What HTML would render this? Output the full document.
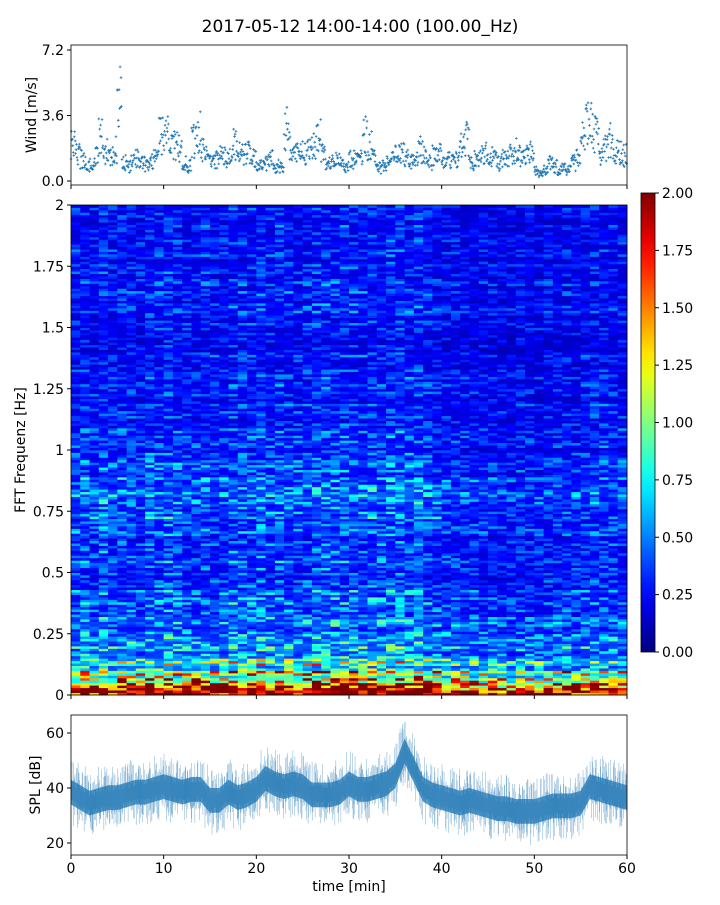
<!DOCTYPE html>
<html><head><meta charset="utf-8">
<style>
body{margin:0;background:#fff;font-family:"Liberation Sans","DejaVu Sans",sans-serif;}
svg text{font-family:"DejaVu Sans","Liberation Sans",sans-serif;fill:#000;}
</style></head>
<body>
<svg id="fig" width="720" height="900" xmlns="http://www.w3.org/2000/svg">
<text x="360" y="32" font-size="17" text-anchor="middle">2017-05-12 14:00-14:00 (100.00_Hz)</text>
<g id="wind"></g>
<g id="spec"></g>
<g id="cbar"></g>
<g id="spl"></g>
</svg>
<script>
// ---- data ----
const windMinutes = 60;
const windValues = [2.2,1.5,1.2,1.0,0.9,1.3,2.4,1.6,1.3,1.7,4.8,1.0,0.8,1.0,1.2,1.0,0.9,1.2,1.8,2.4,3.0,2.3,2.1,1.9,1.0,0.8,2.2,2.7,1.6,1.3,1.0,1.2,1.4,1.3,1.5,2.0,1.6,1.4,1.5,1.2,
 1.0,0.8,1.0,1.2,0.8,0.7,2.8,2.0,1.7,1.5,1.6,1.7,2.0,2.4,1.4,0.9,1.0,1.2,1.0,0.8,1.2,1.3,1.5,2.5,2.0,1.2,0.7,0.8,1.0,1.2,1.4,1.5,1.2,1.1,1.3,1.7,1.3,1.0,1.4,1.5,
 1.2,1.1,1.0,1.3,2.1,2.4,1.0,1.2,1.4,1.5,1.3,1.2,1.0,1.2,1.4,1.3,1.7,1.2,1.4,1.5,0.6,0.4,0.6,1.0,0.8,0.6,0.7,0.6,1.0,1.3,2.5,3.0,3.1,2.6,1.4,1.8,2.3,1.7,1.5,1.4];
const windTicks = [0.0,3.6,7.2];
const splMinutes = [0,1,2,3,4,5,6,7,8,9,10,11,12,13,14,15,16,17,18,19,20,21,22,23,24,25,26,27,28,29,30,31,32,33,34,35,36,37,38,39,40,41,42,43,44,45,46,47,48,49,50,51,52,53,54,55,56,57,58,59,60];
const splValues = [39,37,35,36,37,37,38,39,39,40,41,40,39,40,40,36,36,39,37,38,40,44,42,41,42,41,38,38,38,39,42,40,40,41,42,45,54,47,40,38,37,36,35,36,35,34,33,33,32,32,32,33,34,34,34,35,41,40,39,38,37];
const splTicks = [20,40,60];
const timeTicks = [0,10,20,30,40,50,60];
const freqTicks = [0,0.25,0.5,0.75,1,1.25,1.5,1.75,2];
const freqTickLabels = ["0","0.25","0.5","0.75","1","1.25","1.5","1.75","2"];
const cbarTicks = [0,0.25,0.5,0.75,1,1.25,1.5,1.75,2];
// spectral profile (mean amplitude vs frequency, 0..2 Hz, 40 bins)
const freqProfile = [2.1,1.0,0.72,0.58,0.5,0.44,0.4,0.37,0.35,0.34,0.33,0.33,0.33,0.34,0.36,0.38,0.4,0.37,0.33,0.31,0.3,0.28,0.28,0.27,0.26,0.26,0.26,0.26,0.25,0.25,0.26,0.27,0.27,0.26,0.25,0.25,0.25,0.24,0.24,0.24];
// temporal modulation per minute
const timeProfile = [1.0,1.1,1.0,1.2,1.0,1.1,1.1,1.0,1.15,1.1,1.2,1.1,1.05,1.0,1.1,1.0,1.05,1.15,1.1,1.1,1.2,1.1,1.15,1.1,1.05,1.1,1.2,1.2,1.15,1.2,1.15,1.1,1.2,1.15,1.2,1.25,1.15,1.25,1.1,1.0,0.95,0.95,0.9,0.95,0.9,0.9,0.85,0.85,0.9,0.9,0.85,0.9,0.95,0.95,0.9,0.95,1.0,1.0,1.0,1.0];

// ---- helpers ----
const NS="http://www.w3.org/2000/svg";
function mk(tag,attrs,parent){const e=document.createElementNS(NS,tag);for(const k in attrs)e.setAttribute(k,attrs[k]);parent.appendChild(e);return e;}
const X0=71,X1=627;
const xScale=t=>X0+(t/60)*(X1-X0);
function jet(v){v=Math.max(0,Math.min(1,v));
 const r=Math.min(1,Math.max(0,1.5-Math.abs(4*v-3))),g=Math.min(1,Math.max(0,1.5-Math.abs(4*v-2))),b=Math.min(1,Math.max(0,1.5-Math.abs(4*v-1)));
 return `rgb(${Math.round(r*255)},${Math.round(g*255)},${Math.round(b*255)})`;}
function hash(a,b){let h=(a*374761393+b*668265263)|0;h=(h^(h>>>13))*1274126177|0;return ((h^(h>>>16))>>>0)/4294967295;}

// ---- wind panel ----
const W=document.getElementById('wind');
const wy=v=>181-(v/7.2)*(181-50);
const nPer=10;
windValues.forEach((v,i)=>{
 for(let j=0;j<nPer;j++){
  const t=(i+j/nPer)*windMinutes/windValues.length;
  const o=(hash(i,j)-0.5)*0.9;
  const val=Math.max(0.1,v*(1+o));
  const x=xScale(t),y=wy(val);
  const p=mk('path',{d:`M${x-1.3},${y}h2.6M${x},${y-1.3}v2.6`,stroke:'#1f77b4','stroke-width':0.8},W);
  
  
 }
});
mk('rect',{x:X0,y:45,width:X1-X0,height:140,fill:'none',stroke:'#000','stroke-width':0.8},W);
windTicks.forEach(t=>{const y=wy(t);mk('line',{x1:X0-4,x2:X0,y1:y,y2:y,stroke:'#000'},W);
 const tx=mk('text',{x:X0-7,y:y+5,'font-size':14,'text-anchor':'end'},W);tx.textContent=t.toFixed(1);
 });
timeTicks.forEach(t=>mk('line',{x1:xScale(t),x2:xScale(t),y1:185,y2:189,stroke:'#000'},W));
const wl=mk('text',{x:0,y:0,'font-size':14,'text-anchor':'middle',transform:'translate(36,115) rotate(-90)'},W);wl.textContent='Wind [m/s]';


// ---- spectrogram ----
const S=document.getElementById('spec');
const SY0=205,SY1=695;
const fy=f=>SY1-(f/2)*(SY1-SY0);
const nRows=200;
for(let t=0;t<60;t++){
 for(let r=0;r<nRows;r++){
  const f=(r+0.5)/nRows*2;
  const bi=Math.min(freqProfile.length-1,Math.floor(f/2*freqProfile.length));
  const n=hash(t,r), n2=hash(r,7);
  let v=freqProfile[bi]*timeProfile[t]*(0.4+1.2*n*n+0.2)*(0.75+0.5*n2);
  const c=mk('rect',{x:xScale(t),y:fy((r+1)/nRows*2),width:(X1-X0)/60+0.4,height:(SY1-SY0)/nRows+0.4,fill:jet(v/2)},S);
  
  
 }
}
mk('rect',{x:X0,y:SY0,width:X1-X0,height:SY1-SY0,fill:'none',stroke:'#000','stroke-width':0.8},S);
freqTicks.forEach((f,i)=>{const y=fy(f);mk('line',{x1:X0-4,x2:X0,y1:y,y2:y,stroke:'#000'},S);
 const tx=mk('text',{x:X0-7,y:y+5,'font-size':14,'text-anchor':'end'},S);tx.textContent=freqTickLabels[i];
 });
timeTicks.forEach(t=>mk('line',{x1:xScale(t),x2:xScale(t),y1:SY1,y2:SY1+4,stroke:'#000'},S));
const sl=mk('text',{x:0,y:0,'font-size':14,'text-anchor':'middle',transform:'translate(25,450) rotate(-90)'},S);sl.textContent='FFT Frequenz [Hz]';


// ---- colorbar ----
const C=document.getElementById('cbar');
const CY0=193,CY1=652;
const defs=mk('defs',{},C);
const gr=mk('linearGradient',{id:'jetg',x1:0,y1:1,x2:0,y2:0},defs);
for(let i=0;i<=20;i++)mk('stop',{offset:i/20,'stop-color':jet(i/20)},gr);
mk('rect',{x:641,y:CY0,width:14,height:CY1-CY0,fill:'url(#jetg)',stroke:'#000','stroke-width':0.8},C);
cbarTicks.forEach(v=>{const y=CY1-(v/2)*(CY1-CY0);mk('line',{x1:655,x2:659,y1:y,y2:y,stroke:'#000'},C);
 const tx=mk('text',{x:662,y:y+5,'font-size':14},C);tx.textContent=v.toFixed(2);
 });

// ---- SPL ----
const P=document.getElementById('spl');
const py=v=>788-(v-40)*2.75;
let up='',dn='';
splValues.forEach((v,i)=>{const x=xScale(splMinutes[i]);up+=(i?'L':'M')+x+','+py(v+4);});
for(let i=splValues.length-1;i>=0;i--){dn+='L'+xScale(splMinutes[i])+','+py(splValues[i]-5);}
const band=mk('path',{d:up+dn+'Z',fill:'#1f77b4',opacity:0.75},P);

for(let k=0;k<1100;k++){const t=k/1100*60;const i=Math.min(59,Math.floor(t));const f=t-i;
 const v=splValues[i]*(1-f)+splValues[i+1]*f;const a=hash(k,3),b=hash(k,5);
 const ln=mk('line',{x1:xScale(t),x2:xScale(t),y1:py(v+2+a*a*10),y2:py(v-3-b*b*10),stroke:'#1f77b4','stroke-width':0.5,opacity:0.6},P);
 }
mk('rect',{x:X0,y:715,width:X1-X0,height:140,fill:'none',stroke:'#000','stroke-width':0.8},P);
splTicks.forEach(v=>{const y=py(v);mk('line',{x1:X0-4,x2:X0,y1:y,y2:y,stroke:'#000'},P);
 const tx=mk('text',{x:X0-7,y:y+5,'font-size':14,'text-anchor':'end'},P);tx.textContent=v;
 });
timeTicks.forEach(t=>{const x=xScale(t);mk('line',{x1:x,x2:x,y1:855,y2:859,stroke:'#000'},P);
 const tx=mk('text',{x:x,y:873,'font-size':14,'text-anchor':'middle'},P);tx.textContent=t;
 });
const pl=mk('text',{x:0,y:0,'font-size':14,'text-anchor':'middle',transform:'translate(40,785) rotate(-90)'},P);pl.textContent='SPL [dB]';

const xl=mk('text',{x:349,y:891,'font-size':14,'text-anchor':'middle'},P);xl.textContent='time [min]';

</script>
</body></html>
